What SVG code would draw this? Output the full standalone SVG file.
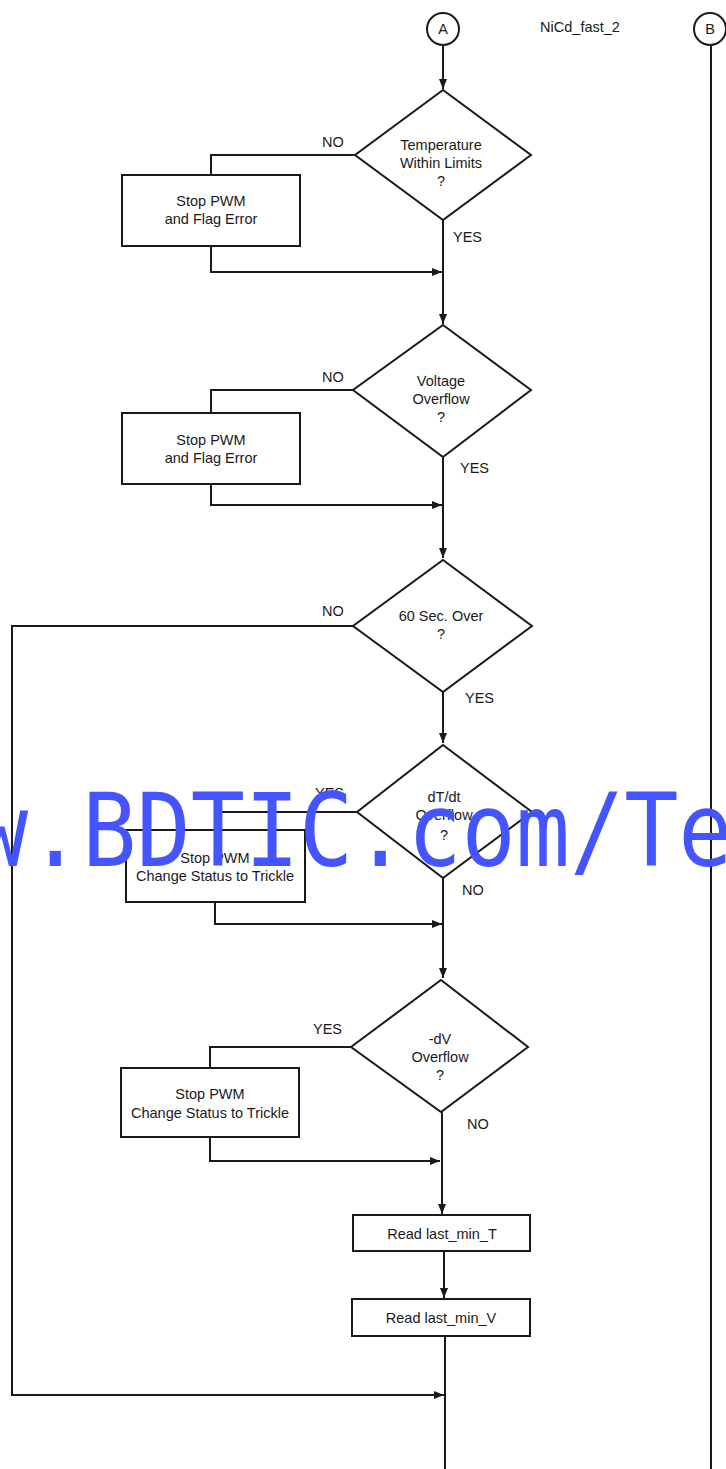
<svg xmlns="http://www.w3.org/2000/svg" width="726" height="1469" viewBox="0 0 726 1469">
<defs>
<marker id="arr" viewBox="0 0 10 8" refX="10" refY="4" markerWidth="10" markerHeight="8" markerUnits="userSpaceOnUse" orient="auto">
<path d="M0,0 L10,4 L0,8 Z" fill="#1a1a1a"/>
</marker>
</defs>
<style>
.s{fill:#fff;stroke:#1a1a1a;stroke-width:2}
.c{fill:none;stroke:#1a1a1a;stroke-width:2}
.t{font-family:"Liberation Sans",Arial,sans-serif;font-size:14.5px;fill:#1a1a1a;text-anchor:middle}
.l{font-family:"Liberation Sans",Arial,sans-serif;font-size:14.5px;fill:#1a1a1a}
.wm{font-family:"DejaVu Sans Mono",monospace;font-size:90px;fill:#4455ff}
</style>
<rect width="726" height="1469" fill="#fff"/>
<g id="connectors">
<path class="c" d="M443,45 V89" marker-end="url(#arr)"/>
<path class="c" d="M355,155 H211 V175"/>
<path class="c" d="M211,246 V272 H442" marker-end="url(#arr)"/>
<path class="c" d="M443,220 V324" marker-end="url(#arr)"/>
<path class="c" d="M353,390 H211 V413"/>
<path class="c" d="M211,484 V505 H442" marker-end="url(#arr)"/>
<path class="c" d="M443,457 V558" marker-end="url(#arr)"/>
<path class="c" d="M353,626 H12 V1395 H444" marker-end="url(#arr)"/>
<path class="c" d="M443,692 V743" marker-end="url(#arr)"/>
<path class="c" d="M357,812 H215 V830"/>
<path class="c" d="M215,902 V924 H442" marker-end="url(#arr)"/>
<path class="c" d="M443,878 V978" marker-end="url(#arr)"/>
<path class="c" d="M351,1047 H210 V1068"/>
<path class="c" d="M210,1137 V1161 H440" marker-end="url(#arr)"/>
<path class="c" d="M442,1112 V1214" marker-end="url(#arr)"/>
<path class="c" d="M444,1252 V1298" marker-end="url(#arr)"/>
<path class="c" d="M445,1336 V1469"/>
<path class="c" d="M711,45 V1469"/>
</g>
<g id="A">
<circle class="s" cx="443" cy="29" r="16"/>
<text class="t" x="443" y="34">A</text>
</g>
<g id="title"><text class="t" x="580" y="32">NiCd_fast_2</text></g>
<g id="B">
<circle class="s" cx="710" cy="29" r="16"/>
<text class="t" x="710" y="34">B</text>
</g>
<g id="d1">
<polygon class="s" points="443,90 531,155 443,220 355,155"/>
<text class="t" x="441" y="150">Temperature</text>
<text class="t" x="441" y="168">Within Limits</text>
<text class="t" x="441" y="186">?</text>
<text class="l" x="322" y="147">NO</text>
<text class="l" x="453" y="242">YES</text>
</g>
<g id="b1">
<rect class="s" x="122" y="175" width="178" height="71"/>
<text class="t" x="211" y="206">Stop PWM</text>
<text class="t" x="211" y="224">and Flag Error</text>
</g>
<g id="d2">
<polygon class="s" points="443,325 531,390 443,457 353,390"/>
<text class="t" x="441" y="386">Voltage</text>
<text class="t" x="441" y="404">Overflow</text>
<text class="t" x="441" y="422">?</text>
<text class="l" x="322" y="382">NO</text>
<text class="l" x="460" y="473">YES</text>
</g>
<g id="b2">
<rect class="s" x="122" y="413" width="178" height="71"/>
<text class="t" x="211" y="445">Stop PWM</text>
<text class="t" x="211" y="463">and Flag Error</text>
</g>
<g id="d3">
<polygon class="s" points="443,560 532,626 443,692 353,626"/>
<text class="t" x="441" y="621">60 Sec. Over</text>
<text class="t" x="441" y="639">?</text>
<text class="l" x="322" y="616">NO</text>
<text class="l" x="465" y="703">YES</text>
</g>
<g id="d4">
<polygon class="s" points="443,745 532,812 443,878 357,812"/>
<text class="t" x="444" y="802">dT/dt</text>
<text class="t" x="444" y="820">Overflow</text>
<text class="t" x="444" y="840">?</text>
<text class="l" x="315" y="798">YES</text>
<text class="l" x="462" y="895">NO</text>
</g>
<g id="b4">
<rect class="s" x="126" y="830" width="179" height="72"/>
<text class="t" x="215" y="863">Stop PWM</text>
<text class="t" x="215" y="881">Change Status to Trickle</text>
</g>
<g id="d5">
<polygon class="s" points="441,980 528,1047 441,1112 351,1047"/>
<text class="t" x="440" y="1044">-dV</text>
<text class="t" x="440" y="1062">Overflow</text>
<text class="t" x="440" y="1080">?</text>
<text class="l" x="313" y="1034">YES</text>
<text class="l" x="467" y="1129">NO</text>
</g>
<g id="b5">
<rect class="s" x="121" y="1068" width="178" height="69"/>
<text class="t" x="210" y="1099">Stop PWM</text>
<text class="t" x="210" y="1118">Change Status to Trickle</text>
</g>
<g id="r1">
<rect class="s" x="353" y="1215" width="177" height="36"/>
<text class="t" x="442" y="1239">Read last_min_T</text>
</g>
<g id="r2">
<rect class="s" x="352" y="1299" width="178" height="37"/>
<text class="t" x="441" y="1323">Read last_min_V</text>
</g>
<g id="watermark">
<text class="wm" x="-26" y="866" transform="translate(0,866) scale(1,1.13) translate(0,-866)">w.BDTIC.com/Te</text>
</g>
</svg>
